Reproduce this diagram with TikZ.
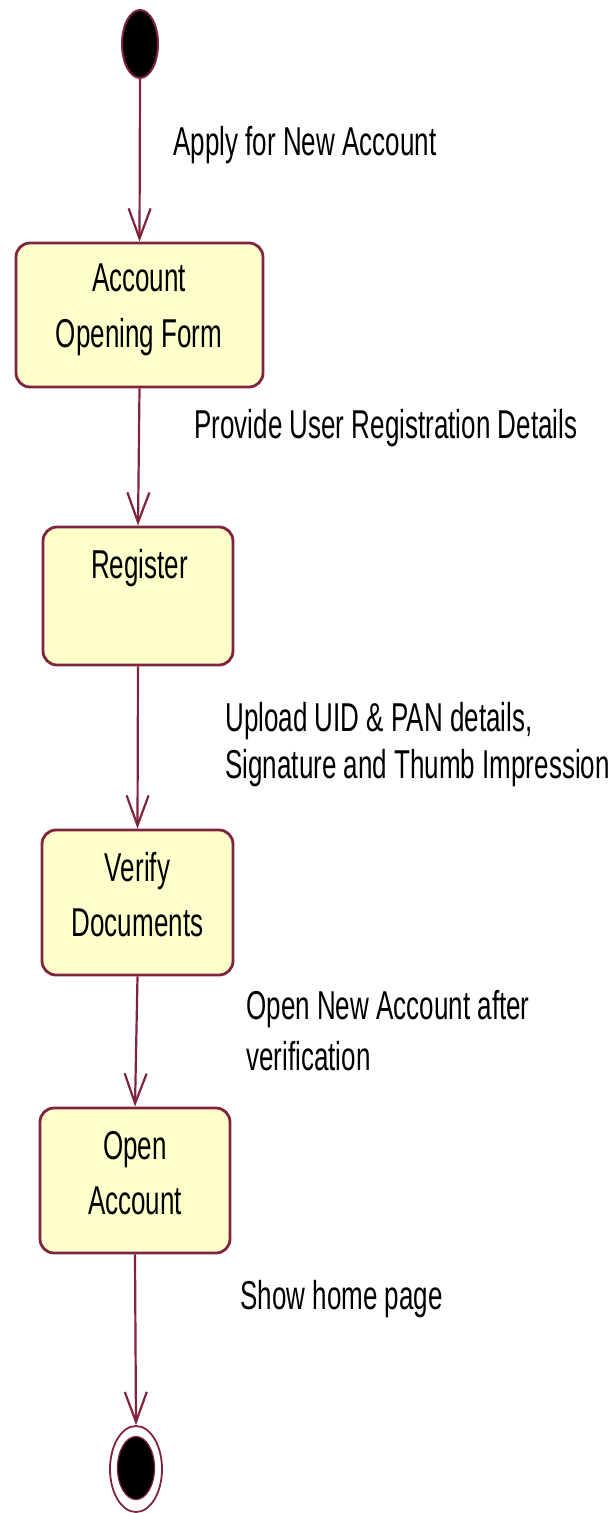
\documentclass[tikz,border=0pt]{standalone}
\usepackage{graphicx}
\usepackage{fontspec}
\setmainfont{Liberation Sans}
\usetikzlibrary{arrows.meta,shapes.geometric}
\definecolor{umlline}{RGB}{128,36,62}
\definecolor{umlfill}{RGB}{255,255,204}
\newcommand{\vtxt}[3]{\scalebox{1}[1.55]{\fontsize{13}{#1}\selectfont\begin{tabular}[t]{@{}#2@{}}#3\end{tabular}}}
\tikzset{
  statebox/.style={rectangle, rounded corners=7pt, draw=umlline, line width=1.4pt, fill=umlfill, inner sep=0pt},
  txt/.style={inner sep=0pt, text=black},
  flow/.style={draw=umlline, line width=1.1pt, -{Straight Barb[length=15pt,width=11pt,line width=1.1pt]}},
}
\begin{document}
\begin{tikzpicture}[x=0.5pt,y=-0.5pt]
\useasboundingbox (0,0) rectangle (611,1513);
% start
\node[ellipse, draw=umlline, line width=1pt, fill=black, minimum width=18pt, minimum height=34pt, inner sep=0pt] (start) at (140,44) {};
% states
\node[statebox, minimum width=123.5pt, minimum height=72pt] (form) at (139.5,315) {};
\node[statebox, minimum width=95pt, minimum height=69pt] (reg) at (138,596) {};
\node[statebox, minimum width=95.5pt, minimum height=72.5pt] (ver) at (137.5,902.5) {};
\node[statebox, minimum width=95pt, minimum height=72.5pt] (open) at (135,1180.5) {};
% state texts
\node[txt, anchor=base] (formt) at (139,292) {\vtxt{17.8pt}{c}{Account\\Opening Form}};
\node[txt, anchor=base] (regt) at (139.5,578) {\vtxt{18pt}{c}{Register}};
\node[txt, anchor=base] (vert) at (137.5,881) {\vtxt{17.8pt}{c}{Verify\\Documents}};
\node[txt, anchor=base] (opent) at (135,1159) {\vtxt{17.8pt}{c}{Open\\Account}};
% end
\node[ellipse, draw=umlline, line width=0.9pt, fill=white, minimum width=26pt, minimum height=43pt, inner sep=0pt] (end) at (136,1469) {};
\node[ellipse, fill=black, draw=umlline, line width=0.6pt, minimum width=18.5pt, minimum height=31.5pt, inner sep=0pt] (endin) at (136,1468) {};
% transition labels
\node[txt, anchor=base west] (l1) at (173,156) {\vtxt{14pt}{l}{Apply for New Account}};
\node[txt, anchor=base west] (l2) at (194,438) {\vtxt{14pt}{l}{Provide User Registration Details}};
\node[txt, anchor=base west] (l3) at (225,731) {\vtxt{15.2pt}{l}{Upload UID \& PAN details,\\Signature and Thumb Impression}};
\node[txt, anchor=base west] (l4) at (246,1019) {\vtxt{16.6pt}{l}{Open New Account after\\verification}};
\node[txt, anchor=base west] (l5) at (240,1309) {\vtxt{14pt}{l}{Show home page}};
% transitions
\draw[flow] (start.south) -- (form.north);
\draw[flow] (form.south) -- (reg.north);
\draw[flow] (reg.south) -- (ver.north);
\draw[flow] (ver.south) -- (open.north);
\draw[flow] (open.south) -- (end.north);
\end{tikzpicture}
\end{document}
